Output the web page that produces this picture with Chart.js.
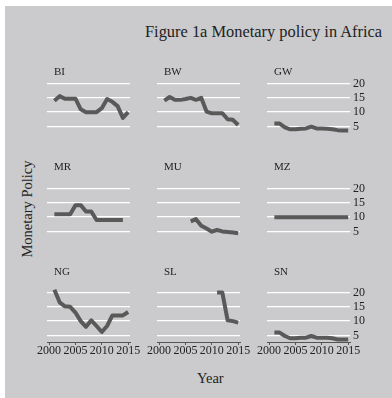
<!DOCTYPE html>
<html>
<head>
<meta charset="utf-8">
<script src="https://cdn.jsdelivr.net/npm/chart.js@4.4.1/dist/chart.umd.min.js"></script>
<style>
  html, body { margin:0; padding:0; background:#ffffff; }
  body { width:392px; height:398px; position:relative; overflow:hidden; font-family:"Liberation Serif","DejaVu Serif",serif; }
  #bg { position:absolute; left:5px; top:6px; width:387px; height:392px; background:#cbcbcd; }
  canvas { position:absolute; }
  .txt { position:absolute; white-space:nowrap; color:#222222; }
</style>
</head>
<body>
<div id="bg"></div>
<div class="txt" id="title" style="left:145px; top:24px; font-size:16.4px; line-height:16px;">Figure 1a Monetary policy in Africa</div>
<div class="txt" id="ytitle" style="left:26.5px; top:208.5px; font-size:14.5px; line-height:14.5px; transform:translate(-50%,-50%) rotate(-90deg);">Monetary Policy</div>
<div class="txt" id="xtitle" style="left:210.3px; top:371px; font-size:14.5px; line-height:14.5px; transform:translateX(-50%);">Year</div>
<script>
// ---- data ----
const years = [2000,2001,2002,2003,2004,2005,2006,2007,2008,2009,2010,2011,2012,2013,2014,2015];
const countries = ["BI","BW","GW","MR","MU","MZ","NG","SL","SN"];
const BI = [null,14,15.6,14.7,14.7,14.7,11,10,10,10,11.4,14.6,13.6,12.1,8,10];
const BW = [null,14,15.3,14.3,14.3,14.6,15,14.3,15,10.2,9.6,9.6,9.6,7.5,7.3,5.5];
const GW = [null,6,6,4.7,4,4,4.2,4.3,4.9,4.3,4.3,4.2,4,3.7,3.6,3.6];
const MR = [null,11,11,11,11,14.2,14.2,12,12,9,9,9,9,9,9,null];
const MU = [null,null,null,null,null,null,8.5,9.3,7,6,4.9,5.5,5,4.8,4.6,4.4];
const MZ = [null,10,10,10,10,10,10,10,10,10,10,10,10,10,10,10];
const NG = [null,21,16.6,15.2,15,13,10,8,10.3,8.3,6.2,8.3,12,12,12,13.2];
const SL = [null,null,null,null,null,null,null,null,null,null,null,20,20,10.3,10,9.5];
const SN = [null,6,6,4.8,4,4,4.2,4.2,4.8,4.2,4.2,4.2,4,3.6,3.6,3.6];
const seriesByCountry = {BI, BW, GW, MR, MU, MZ, NG, SL, SN};
const xTicks = [2000,2005,2010,2015];
const yTicks = [5,10,15,20];

// ---- layout ----
const FONT = '"Liberation Serif","DejaVu Serif",serif';
const colLeft = [47,157,267];
const rowTop = [79.4,184.4,288.4];
const plotW = 83, plotH = 54, P = 24;
const yAxisW = 26, xAxisH = 22;
const stripCenterY = [71.7,166.7,271.7];

countries.forEach((code, idx) => {
  const r = Math.floor(idx/3), c = idx % 3;
  const showY = c === 2, showX = r === 2;
  const cv = document.createElement('canvas');
  const w = plotW + 2*P + (showY ? yAxisW : 0);
  const h = plotH + 2*P + (showX ? xAxisH : 0);
  cv.width = w; cv.height = h;
  cv.style.width = w + 'px'; cv.style.height = h + 'px';
  cv.style.left = (colLeft[c] - P) + 'px';
  cv.style.top = (rowTop[r] - P) + 'px';
  document.body.appendChild(cv);

  const lab = document.createElement('div');
  lab.className = 'txt';
  lab.textContent = code;
  lab.style.fontSize = '11px';
  lab.style.lineHeight = '11px';
  lab.style.left = (colLeft[c] + 7) + 'px';
  lab.style.top = (stripCenterY[r] - 5.5) + 'px';
  document.body.appendChild(lab);

  const vals = seriesByCountry[code];
  const pts = years.map((y,i) => ({x:y, y:vals[i]}));

  new Chart(cv, {
    type: 'line',
    data: { datasets: [{
      data: pts,
      borderColor: '#595959',
      borderWidth: 4,
      pointRadius: 0,
      borderJoinStyle: 'round',
      borderCapStyle: 'butt',
      tension: 0,
      spanGaps: false,
      clip: false
    }]},
    options: {
      responsive: false,
      animation: false,
      devicePixelRatio: 1,
      layout: { padding: { left:P, right:P, top:P, bottom:P } },
      plugins: { legend:{display:false}, tooltip:{enabled:false}, title:{display:false} },
      scales: {
        x: {
          type: 'linear',
          min: 1999.6, max: 2015.35,
          display: showX,
          afterBuildTicks: s => { s.ticks = xTicks.map(v => ({value:v})); },
          afterFit: s => { s.height = showX ? xAxisH : 0; },
          border: { display: true, color:'#555555', width:1 },
          grid: { display: true, drawOnChartArea:false, drawTicks:true, tickLength:3, color:'#555555', lineWidth:1 },
          ticks: { font:{family:FONT, size:12}, color:'#222222', padding:-1, maxRotation:0, autoSkip:false,
                   callback: v => String(v) }
        },
        y: {
          type: 'linear',
          position: 'right',
          min: 2.7, max: 21.6,
          display: true,
          afterBuildTicks: s => { s.ticks = yTicks.map(v => ({value:v})); },
          afterFit: s => { s.width = showY ? yAxisW : 0; },
          border: { display:false },
          grid: { color:'#ffffff', lineWidth:1.3, drawTicks:false, tickLength:0 },
          ticks: { display: showY, font:{family:FONT, size:12}, color:'#222222', padding:3,
                   callback: v => String(v) }
        }
      }
    }
  });
});
</script>
</body>
</html>
